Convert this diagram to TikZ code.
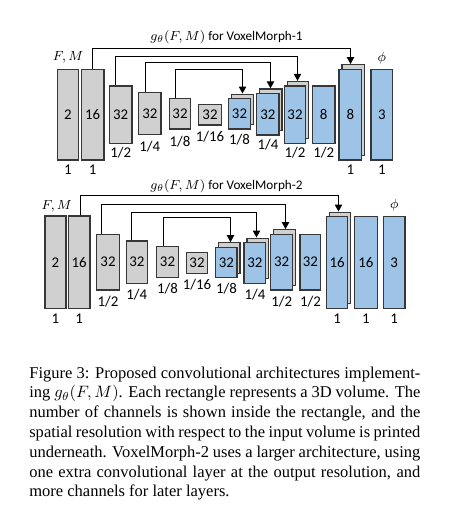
\documentclass[tikz,border=0pt]{standalone}
\usepackage{fontspec}
\setmainfont{Liberation Serif}
\newfontfamily\calfont{Carlito}
\usetikzlibrary{arrows.meta,calc}
\definecolor{gfill}{RGB}{208,208,208}
\definecolor{bfill}{RGB}{157,195,230}
\definecolor{bord}{RGB}{55,55,55}
\tikzset{
 blkbase/.style={draw=bord, line width=0.8pt, inner sep=0pt, font=\calfont\fontsize{9}{10}\selectfont},
 gray blk/.style={blkbase, fill=gfill},
 blue blk/.style={blkbase, fill=bfill},
 lab/.style={inner sep=0pt, font=\calfont\fontsize{9}{10}\selectfont},
 ttl/.style={inner sep=0pt, font=\calfont\fontsize{8}{9}\selectfont},
 mlab/.style={inner sep=0pt, font=\fontsize{8}{9}\selectfont},
 conn/.style={line width=0.65pt, -{Triangle[width=4.4pt,length=4.2pt]}},
}
\newcommand{\blk}[7]{%
  \pgfmathsetmacro\bcx{(#2+#4)/2}%
  \pgfmathsetmacro\bcy{(#3+#5)/2}%
  \pgfmathsetmacro\bw{(#4-#2)*0.606}%
  \pgfmathsetmacro\bh{(#5-#3)*0.606}%
  \node[#6, minimum width=\bw pt, minimum height=\bh pt] (#1) at (\bcx,\bcy) {#7};}
\newcommand{\sblk}[6]{%
  \pgfmathsetmacro\bcx{(#2+#4)/2}%
  \pgfmathsetmacro\bcy{(#3+#5)/2}%
  \pgfmathsetmacro\bw{(#4-#2)*0.606}%
  \pgfmathsetmacro\bh{(#5-#3)*0.606}%
  \node[gray blk, minimum width=\bw pt, minimum height=\bh pt] (#1b) at (\bcx+3,\bcy-4.5) {};
  \node[blue blk, minimum width=\bw pt, minimum height=\bh pt] (#1) at (\bcx,\bcy) {#6};}
\newcommand{\lbl}[4]{\node[lab] (#1) at (#2,#3) {#4};}
% connector: source node, target node, corner-left (x,y), corner-right x
\newcommand{\skipconn}[5]{%
  \coordinate (#1p) at (#3,#4);
  \coordinate (#1q) at (#5,#4);
  \draw[conn] (#1.north -| #1p) -- (#1p) -- (#1q) -- (#2.north -| #1q);}
\begin{document}
\begin{tikzpicture}[x=0.606pt, y=-0.606pt]
\useasboundingbox (0,0) rectangle (459,519);
% ---------------- VoxelMorph-1 ----------------
\node[ttl] (t1) at (226.5,37) {$g_\theta(F,M)$ for VoxelMorph-1};
\node[mlab] (fm1) at (68,57.7) {$F,M$};
\node[mlab] (phi1) at (381.7,58) {$\phi$};
\blk{a1}{57.3}{69.3}{78.3}{160}{gray blk}{2}
\blk{a2}{81.3}{69.3}{104}{160}{gray blk}{16}
\blk{a3}{109.3}{86}{132}{143.3}{gray blk}{32}
\blk{a4}{138.7}{92.7}{161}{134.7}{gray blk}{32}
\blk{a5}{169.3}{98.7}{190.7}{129}{gray blk}{32}
\blk{a6}{198.7}{104.3}{221.3}{125}{gray blk}{32}
\sblk{b1}{228.3}{98.7}{250.7}{129}{32}
\sblk{b2}{256.7}{93.5}{279}{135}{32}
\sblk{b3}{284.3}{86}{305.7}{143.3}{32}
\blk{b4}{312.3}{86}{335}{143.3}{blue blk}{8}
\sblk{b5}{339}{69.3}{361.7}{160}{8}
\blk{b6}{371}{69.3}{392.7}{160}{blue blk}{3}
\lbl{la1}{67.8}{170}{1}
\lbl{la2}{92.7}{170}{1}
\lbl{la3}{120.7}{153}{1/2}
\lbl{la4}{149.8}{147}{1/4}
\lbl{la5}{180}{141.7}{1/8}
\lbl{la6}{210}{136.7}{1/16}
\lbl{lb1}{239.5}{140}{1/8}
\lbl{lb2}{267.9}{145}{1/4}
\lbl{lb3}{295}{153}{1/2}
\lbl{lb4}{323.7}{153}{1/2}
\lbl{lb5}{350.3}{170}{1}
\lbl{lb6}{381.8}{170}{1}
\skipconn{a2}{b5b}{92.5}{48.5}{350.5}
\skipconn{a3}{b3b}{115.5}{56.5}{297.5}
\skipconn{a4}{b2b}{145.5}{62.5}{270.5}
\skipconn{a5}{b1b}{175.5}{69.5}{242.5}
% ---------------- VoxelMorph-2 ----------------
\node[ttl] (t2) at (226.5,185.7) {$g_\theta(F,M)$ for VoxelMorph-2};
\node[mlab] (fm2) at (56.7,206.7) {$F,M$};
\node[mlab] (phi2) at (394.3,205) {$\phi$};
\blk{c1}{45}{216}{66}{308.7}{gray blk}{2}
\blk{c2}{68.3}{216}{90}{308.7}{gray blk}{16}
\blk{c3}{96.7}{234.3}{119.3}{290}{gray blk}{32}
\blk{c4}{126.3}{241}{147.3}{283.3}{gray blk}{32}
\blk{c5}{156.7}{246.7}{178.3}{277.7}{gray blk}{32}
\blk{c6}{186.7}{252.3}{207.3}{273.3}{gray blk}{32}
\sblk{d1}{215.7}{247.3}{237}{277.7}{32}
\sblk{d2}{244}{242.7}{265.7}{283.3}{32}
\sblk{d3}{270.7}{234.3}{292.7}{290}{32}
\blk{d4}{300}{234.3}{320.7}{290}{blue blk}{32}
\sblk{d5}{326.7}{216.7}{347.7}{308.3}{16}
\blk{d6}{354.3}{216.7}{377.3}{308.3}{blue blk}{16}
\blk{d7}{383.3}{216.7}{405}{308.3}{blue blk}{3}
\lbl{lc1}{55.5}{318.3}{1}
\lbl{lc2}{79.2}{318.3}{1}
\lbl{lc3}{108}{301.7}{1/2}
\lbl{lc4}{136.8}{295}{1/4}
\lbl{lc5}{167.5}{289}{1/8}
\lbl{lc6}{197}{285}{1/16}
\lbl{ld1}{226.4}{289}{1/8}
\lbl{ld2}{254.9}{295}{1/4}
\lbl{ld3}{281.7}{301.7}{1/2}
\lbl{ld4}{310.4}{301.7}{1/2}
\lbl{ld5}{337.2}{318.3}{1}
\lbl{ld6}{365.8}{318.3}{1}
\lbl{ld7}{394.2}{318.3}{1}
\skipconn{c2}{d5b}{80.5}{195.5}{338.5}
\skipconn{c3}{d3b}{101.5}{204.5}{285.5}
\skipconn{c4}{d2b}{131.5}{212.5}{256.5}
\skipconn{c5}{d1b}{163.5}{217.5}{230.5}
% ---------------- caption ----------------
\node[anchor=base west, inner sep=0pt, text width=237pt, align=justify,
      font=\fontsize{10}{12}\selectfont] (cap) at (29,378)
 {\tolerance=9999 Figure 3: Proposed convolutional architectures implement-\linebreak
  ing $g_\theta(F,M)$. Each rectangle represents a 3D volume. The\linebreak
  number of channels is shown inside the rectangle, and the\linebreak
  spatial resolution with respect to the input volume is printed\linebreak
  underneath. VoxelMorph-2 uses a larger architecture, using\linebreak
  one extra convolutional layer at the output resolution, and\linebreak
  more channels for later layers.};
\end{tikzpicture}
\end{document}
